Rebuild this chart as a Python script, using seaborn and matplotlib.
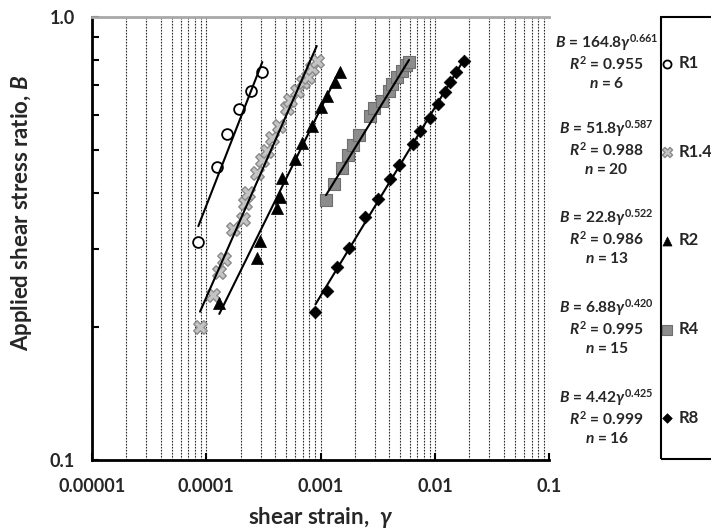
import numpy as np
import pandas as pd
import matplotlib
matplotlib.use("Agg")
import matplotlib.pyplot as plt
import seaborn as sns
from matplotlib.patches import Rectangle
from matplotlib.ticker import FixedLocator, FixedFormatter, NullFormatter

# ---------------- data ----------------
series_names = ["R1", "R1.4", "R2", "R4", "R8"]

r1_strain = [8.55e-5, 1.25e-4, 1.53e-4, 1.94e-4, 2.46e-4, 3.10e-4]
r1_ratio = [0.310, 0.459, 0.543, 0.619, 0.681, 0.749]

r14_strain = [8.85e-5, 1.143e-4, 1.30e-4, 1.437e-4, 1.73e-4, 2.11e-4, 2.19e-4,
              2.34e-4, 2.77e-4, 3.06e-4, 3.43e-4, 3.74e-4, 4.37e-4, 5.07e-4,
              5.40e-4, 6.20e-4, 7.08e-4, 7.81e-4, 8.50e-4, 9.27e-4]
r14_ratio = [0.200, 0.236, 0.266, 0.285, 0.332, 0.3495, 0.380, 0.401, 0.444,
             0.475, 0.498, 0.532, 0.567, 0.624, 0.649, 0.680, 0.714, 0.732,
             0.765, 0.795]

r2_strain = [1.304e-4, 2.77e-4, 2.96e-4, 4.14e-4, 4.43e-4, 4.61e-4, 5.93e-4,
             6.85e-4, 8.37e-4, 1.00e-3, 1.15e-3, 1.35e-3, 1.48e-3]
r2_ratio = [0.226, 0.2855, 0.312, 0.371, 0.393, 0.434, 0.4785, 0.5185, 0.566,
            0.626, 0.663, 0.713, 0.750]

r4_strain = [1.117e-3, 1.32e-3, 1.527e-3, 1.75e-3, 1.92e-3, 2.17e-3, 2.735e-3,
             2.965e-3, 3.48e-3, 3.97e-3, 4.22e-3, 4.67e-3, 5.15e-3, 5.58e-3,
             5.94e-3]
r4_ratio = [0.386, 0.420, 0.455, 0.489, 0.514, 0.541, 0.597, 0.623, 0.6457,
            0.680, 0.705, 0.731, 0.754, 0.778, 0.790]

r8_strain = [9.04e-4, 1.132e-3, 1.393e-3, 1.78e-3, 2.45e-3, 3.20e-3, 4.05e-3,
             4.88e-3, 6.47e-3, 7.45e-3, 9.12e-3, 1.055e-2, 1.22e-2, 1.365e-2,
             1.53e-2, 1.795e-2]
r8_ratio = [0.2163, 0.2412, 0.2735, 0.3014, 0.353, 0.3877, 0.430, 0.462, 0.516,
            0.552, 0.590, 0.636, 0.675, 0.711, 0.752, 0.795]

fit_coef = [164.8, 51.8, 22.8, 6.88, 4.42]
fit_coef_text = ["164.8", "51.8", "22.8", "6.88", "4.42"]
fit_exp_text = ["0.661", "0.587", "0.522", "0.420", "0.425"]
fit_exp = [0.661, 0.587, 0.522, 0.420, 0.425]
fit_r2 = ["0.955", "0.988", "0.986", "0.995", "0.999"]
fit_n = [6, 20, 13, 15, 16]

x_tick_values = [1e-5, 1e-4, 1e-3, 1e-2, 1e-1]
x_tick_labels = ["0.00001", "0.0001", "0.001", "0.01", "0.1"]
y_tick_values = [0.1, 1.0]
y_tick_labels = ["0.1", "1.0"]

strains = [r1_strain, r14_strain, r2_strain, r4_strain, r8_strain]
ratios = [r1_ratio, r14_ratio, r2_ratio, r4_ratio, r8_ratio]

df = pd.concat([
    pd.DataFrame({"strain": s, "ratio": r, "series": name})
    for s, r, name in zip(strains, ratios, series_names)
], ignore_index=True)

# ---------------- style ----------------
sns.set_theme(style="white")
FONT = "Lato"
plt.rcParams["font.family"] = [FONT, "DejaVu Sans"]
plt.rcParams["font.weight"] = "bold"
plt.rcParams["mathtext.fontset"] = "custom"
plt.rcParams["mathtext.rm"] = f"{FONT}:bold"
plt.rcParams["mathtext.it"] = f"{FONT}:italic:bold"
plt.rcParams["mathtext.bf"] = f"{FONT}:bold"

W, H = 711, 531
fig = plt.figure(figsize=(W / 100, H / 100), dpi=100)
ax_l, ax_r, ax_t, ax_b = 91.7, 549.3, 16.7, 460.4
ax = fig.add_axes([ax_l / W, 1 - ax_b / H, (ax_r - ax_l) / W, (ax_b - ax_t) / H])

styles = {
    "R1": dict(marker="o", s=60, facecolor="white", edgecolor="black", linewidth=1.3),
    "R1.4": dict(marker="X", s=95, facecolor="#c4c4c4", edgecolor="#8a8a8a", linewidth=1.0),
    "R2": dict(marker="^", s=75, facecolor="black", edgecolor="black", linewidth=0.5),
    "R4": dict(marker="s", s=80, facecolor="#8c8c8c", edgecolor="#6e6e6e", linewidth=0.8),
    "R8": dict(marker="D", s=42, facecolor="black", edgecolor="black", linewidth=0.5),
}

ax.set_xscale("log")
ax.set_yscale("log")

for name in series_names:
    sub = df[df["series"] == name]
    sns.scatterplot(data=sub, x="strain", y="ratio", ax=ax, label=name, zorder=3,
                    **styles[name])

# fitted power-law lines
for name, a, b in zip(series_names, fit_coef, fit_exp):
    sub = df[df["series"] == name]
    xs = np.array([sub["strain"].min(), sub["strain"].max()])
    line_df = pd.DataFrame({"strain": xs, "ratio": a * xs ** b})
    sns.lineplot(data=line_df, x="strain", y="ratio", ax=ax, color="black",
                 linewidth=1.5, zorder=4, legend=False)

handles, labels = ax.get_legend_handles_labels()
if ax.get_legend() is not None:
    ax.get_legend().remove()

ax.set_xlim(1e-5, 1e-1)
ax.set_ylim(0.1, 1.0)

# ticks
ax.xaxis.set_major_locator(FixedLocator(x_tick_values))
ax.xaxis.set_major_formatter(FixedFormatter(x_tick_labels))
x_minor = [m * 10.0 ** e for e in range(-5, -1) for m in range(2, 10)]
ax.xaxis.set_minor_locator(FixedLocator(x_minor))
ax.xaxis.set_minor_formatter(NullFormatter())
ax.yaxis.set_major_locator(FixedLocator(y_tick_values))
ax.yaxis.set_major_formatter(FixedFormatter(y_tick_labels))
ax.yaxis.set_minor_locator(FixedLocator([m / 10 for m in range(2, 10)]))
ax.yaxis.set_minor_formatter(NullFormatter())

ax.tick_params(axis="x", which="major", direction="in", length=5, width=1.5,
               color="black", labelsize=13, pad=13, bottom=True)
ax.tick_params(axis="x", which="minor", length=0)
ax.tick_params(axis="y", which="both", direction="in", length=5, width=1.5,
               color="black", labelsize=13, pad=12, left=True)
for lab in ax.get_xticklabels() + ax.get_yticklabels():
    lab.set_fontweight("bold")

ax.grid(True, which="both", axis="x", linestyle=(0, (1.5, 1.2)), color="#2a2a2a",
        linewidth=0.8)
ax.grid(False, axis="y")
ax.set_axisbelow(True)

for side in ["left", "bottom"]:
    ax.spines[side].set_color("black")
    ax.spines[side].set_linewidth(2)
ax.spines["top"].set_color("#a8a8a8")
ax.spines["top"].set_linewidth(2)
ax.spines["right"].set_visible(False)

ax.set_xlabel(r"shear strain,  $\gamma$", fontsize=16, fontweight="bold")
ax.set_ylabel(r"Applied shear stress ratio, $B$", fontsize=16, fontweight="bold")
ax.yaxis.set_label_coords((34 - ax_l) / (ax_r - ax_l), (ax_b - 213) / (ax_b - ax_t))
ax.xaxis.set_label_coords(0.5, (ax_b - 505) / (ax_b - ax_t))

# equation annotations
block_centers = [63.3, 150.0, 238.3, 328.3, 418.3]
for yc, c, e, r2, n in zip(block_centers, fit_coef_text, fit_exp_text, fit_r2, fit_n):
    fig.text(606.7 / W, 1 - (yc - 21) / H, rf"$B$ = {c}$\gamma^{{{e}}}$",
             ha="center", va="center", fontsize=11.2, fontweight="bold")
    fig.text(606.7 / W, 1 - yc / H, rf"$R^2$ = {r2}",
             ha="center", va="center", fontsize=11.2, fontweight="bold")
    fig.text(606.7 / W, 1 - (yc + 20) / H, rf"$n$ = {n}",
             ha="center", va="center", fontsize=11.2, fontweight="bold")

# legend box (cut by the figure edge, as in the reference)
box_l, box_t, box_b = 661, 16.7, 459.3
fig.patches.append(Rectangle((box_l / W, 1 - box_b / H), 0.2, (box_b - box_t) / H,
                             transform=fig.transFigure, fill=False,
                             edgecolor="black", linewidth=1.5, clip_on=False))
leg = fig.legend(handles, labels, loc="upper left",
                 bbox_to_anchor=(660.5 / W, 1 - 55 / H), frameon=False,
                 borderpad=0, borderaxespad=0, handlelength=0.8,
                 handletextpad=0.3, labelspacing=4.36, markerscale=0.75,
                 prop={"family": [FONT, "DejaVu Sans"], "weight": "bold", "size": 12})

fig.savefig("out.png", dpi=100)
